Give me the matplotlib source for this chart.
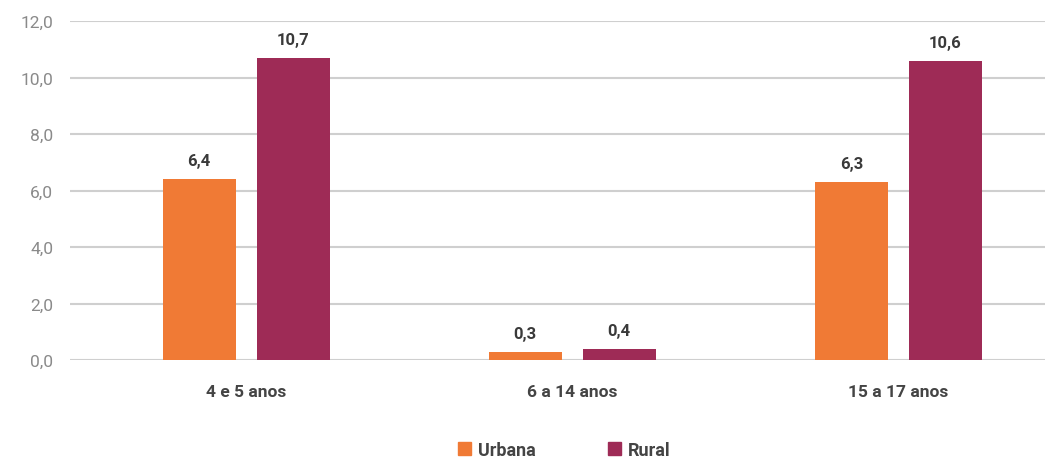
import numpy as np
import matplotlib.pyplot as plt
from matplotlib.patches import Patch

plt.rcParams['font.family'] = ['Liberation Sans Narrow', 'Roboto', 'DejaVu Sans']

# data
categories = ['4 e 5 anos', '6 a 14 anos', '15 a 17 anos']
urbana = [6.4, 0.3, 6.3]
rural = [10.7, 0.4, 10.6]
series_names = ['Urbana', 'Rural']
yticks = [0, 2, 4, 6, 8, 10, 12]

c_urb = '#F07A35'
c_rur = '#9E2B56'

fig = plt.figure(figsize=(10.45, 4.6), dpi=100)
ax = fig.add_axes([0.067, 0.215, 0.933, 0.737])

x = np.arange(len(categories))
off = 0.144
w = 0.224
b1 = ax.bar(x - off, urbana, w, color=c_urb, zorder=3)
b2 = ax.bar(x + off, rural, w, color=c_rur, zorder=3)

for bars, vals in ((b1, urbana), (b2, rural)):
    for b, v in zip(bars, vals):
        ax.annotate(f'{v:.1f}'.replace('.', ','), (b.get_x() + b.get_width() / 2, v),
                    xytext=(0, 8), textcoords='offset points', ha='center', va='bottom',
                    fontsize=12, fontweight='bold', color='#3a3a3a')

ax.set_xlim(-0.54, 2.45)
ax.set_ylim(0, 12)
ax.set_yticks(yticks)
ax.set_yticklabels([f'{t:.1f}'.replace('.', ',') for t in yticks], fontsize=12.5, color='#8a8a8a')
ax.set_xticks(x)
ax.set_xticklabels(categories, fontsize=12.5, fontweight='bold', color='#444444')
ax.tick_params(axis='both', length=0)
ax.tick_params(axis='x', pad=17)
ax.tick_params(axis='y', pad=12)
ax.grid(axis='y', color='#cfcfcf', linewidth=1.5, zorder=0)
for s in ax.spines.values():
    s.set_visible(False)

handles = [Patch(color=c_urb), Patch(color=c_rur)]
fig.legend(handles, series_names, loc='lower center', bbox_to_anchor=(0.54, -0.035), ncol=2,
           frameon=False, handlelength=0.7, handleheight=0.7,
           columnspacing=4, handletextpad=0.4, prop={'weight': 'bold', 'size': 13})
for t in fig.legends[0].get_texts():
    t.set_color('#444444')

fig.savefig('out.png', dpi=100)
